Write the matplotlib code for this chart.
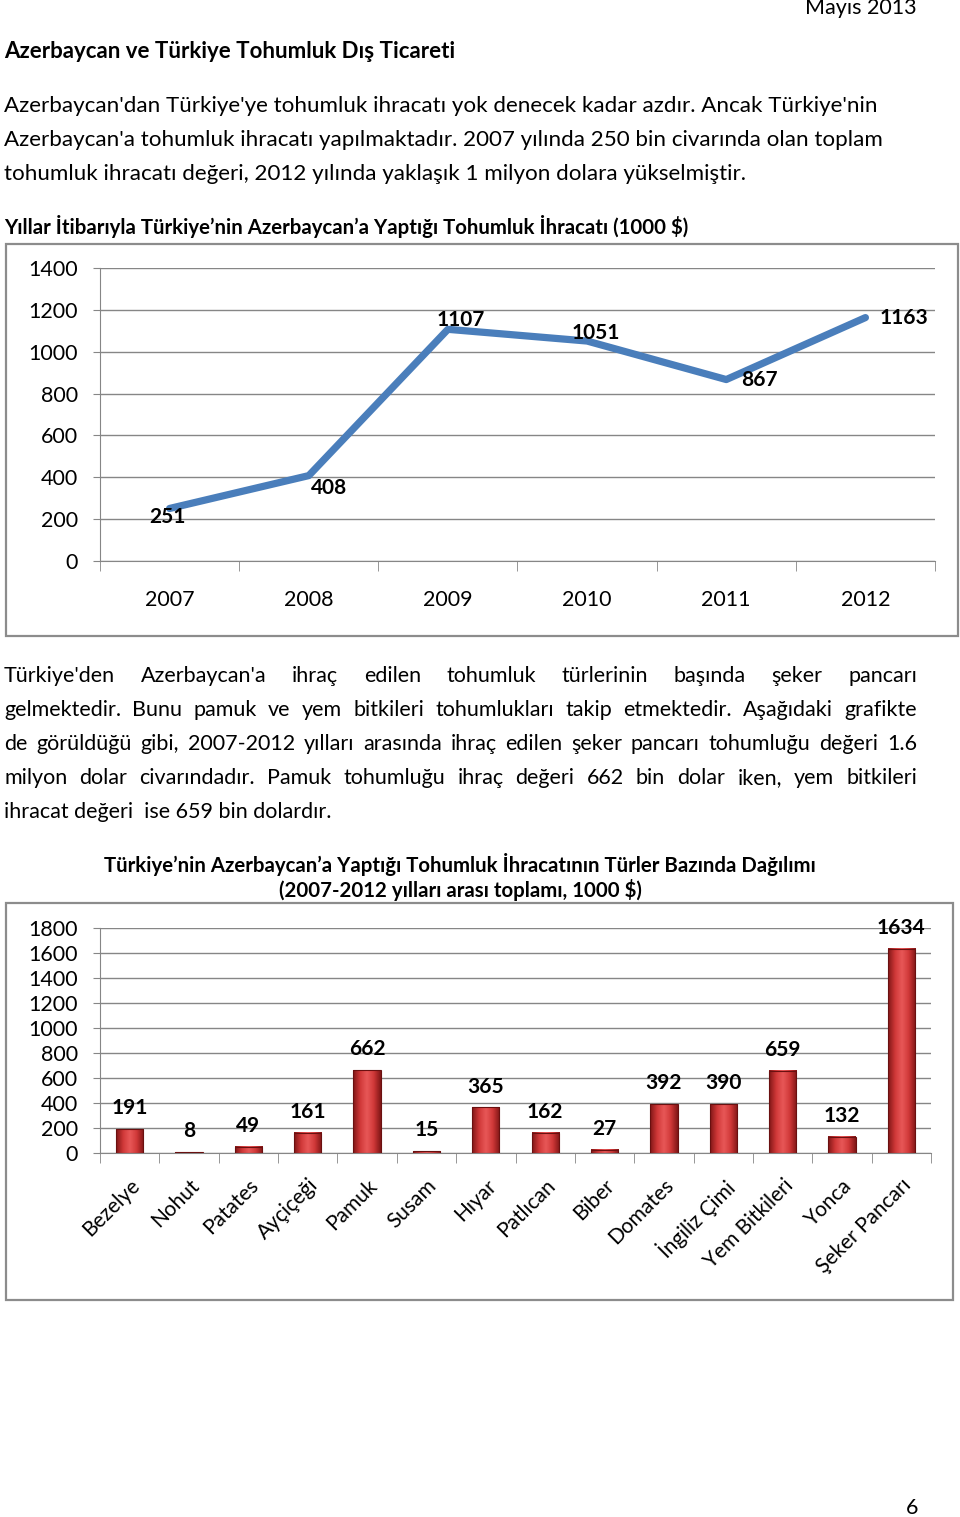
import numpy as np
import matplotlib
matplotlib.use("Agg")
import matplotlib.pyplot as plt
from matplotlib.colors import LinearSegmentedColormap

plt.rcParams['font.family'] = ['Lato', 'DejaVu Sans']

W, H = 960, 1517

# data: chart 1
years = ['2007', '2008', '2009', '2010', '2011', '2012']
export_vals = [251, 408, 1107, 1051, 867, 1163]

# data: chart 2
kinds = ['Bezelye', 'Nohut', 'Patates', 'Ayçiçeği', 'Pamuk', 'Susam', 'Hıyar',
         'Patlıcan', 'Biber', 'Domates', 'İngiliz Çimi', 'Yem Bitkileri',
         'Yonca', 'Şeker Pancarı']
kind_vals = [191, 8, 49, 161, 662, 15, 365, 162, 27, 392, 390, 659, 132, 1634]

para1 = ["Azerbaycan'dan Türkiye'ye tohumluk ihracatı yok denecek kadar azdır. Ancak Türkiye'nin",
         "Azerbaycan'a tohumluk ihracatı yapılmaktadır. 2007 yılında 250 bin civarında olan toplam",
         "tohumluk ihracatı değeri, 2012 yılında yaklaşık 1 milyon dolara yükselmiştir."]
para2 = ["Türkiye'den Azerbaycan'a ihraç edilen tohumluk türlerinin başında şeker pancarı",
         "gelmektedir. Bunu pamuk ve yem bitkileri tohumlukları takip etmektedir. Aşağıdaki grafikte",
         "de görüldüğü gibi, 2007-2012 yılları arasında ihraç edilen şeker pancarı tohumluğu değeri 1.6",
         "milyon dolar civarındadır. Pamuk tohumluğu ihraç değeri 662 bin dolar iken, yem bitkileri",
         "ihracat değeri  ise 659 bin dolardır."]

fig = plt.figure(figsize=(W / 100, H / 100), dpi=100)


def fx(x):
    return x / W


def fy(y):
    return 1 - y / H


def box(x0, y0, x1, y1):
    return [fx(x0), fy(y1), (x1 - x0) / W, (y1 - y0) / H]


TXT = 16.1
fig.text(fx(917), fy(8), "Mayıs 2013", ha='right', va='center', fontsize=15.5)
fig.text(fx(4), fy(52), "Azerbaycan ve Türkiye Tohumluk Dış Ticareti", ha='left', va='center',
         fontsize=16, fontweight='bold')
for i, line in enumerate(para1):
    fig.text(fx(4), fy(106 + 34 * i), line, ha='left', va='center', fontsize=TXT)

fig.text(fx(4), fy(226), "Yıllar İtibarıyla Türkiye’nin Azerbaycan’a Yaptığı Tohumluk İhracatı (1000 $)",
         ha='left', va='center', fontsize=14.7, fontweight='bold')

# justified paragraph
renderer = fig.canvas.get_renderer()
for i, line in enumerate(para2):
    y = fy(676 + 34 * i)
    if i == len(para2) - 1:
        fig.text(fx(4), y, line, ha='left', va='center', fontsize=15.5)
        continue
    words = line.split()
    texts = [fig.text(0, y, w, ha='left', va='center', fontsize=15.5) for w in words]
    widths = [t.get_window_extent(renderer).width for t in texts]
    gap = (917 - 4 - sum(widths)) / (len(words) - 1)
    xpos = 4
    for t, w in zip(texts, widths):
        t.set_x(fx(xpos))
        xpos += w + gap

fig.text(fx(912), fy(1508), "6", ha='center', va='center', fontsize=15.5)

# frames
for (x0, y0, x1, y1) in [(6, 244, 958, 636), (6, 903, 953, 1300)]:
    fig.patches.append(plt.Rectangle((fx(x0), fy(y1)), (x1 - x0) / W, (y1 - y0) / H,
                                     transform=fig.transFigure, fill=False,
                                     edgecolor='#8c8c8c', lw=1.6))

GRID = '#868686'

# chart 1
ax = fig.add_axes(box(100, 268, 935, 561))
xs = np.arange(len(years))
ax.plot(xs, export_vals, color='#4a7ebb', lw=5.2, solid_capstyle='round', zorder=3)
ax.set_xlim(-0.5, len(years) - 0.5)
ax.set_ylim(0, 1400)
ax.set_yticks(range(0, 1401, 200))
ax.yaxis.grid(True, color=GRID, lw=1)
ax.set_axisbelow(True)
ax.set_xticks(xs)
ax.set_xticklabels(years)
ax.set_xticks(np.arange(-0.5, len(years)), minor=True)
ax.tick_params(axis='x', which='major', length=0, pad=21, labelsize=15.5)
ax.tick_params(axis='x', which='minor', length=7, color=GRID, direction='out')
ax.tick_params(axis='y', length=5, color=GRID, pad=11, labelsize=15.5)
for s in ['top', 'right']:
    ax.spines[s].set_visible(False)
for s in ['left', 'bottom']:
    ax.spines[s].set_color(GRID)
label_off = [(-1.5, -6.5), (15, -9), (9, 7), (6.5, 6), (24, 0), (28, 0)]
for xi, v, (dx, dy) in zip(xs, export_vals, label_off):
    ax.annotate(str(v), (xi, v), xytext=(dx, dy), textcoords='offset points',
                ha='center', va='center', fontsize=15, fontweight='bold')

# chart 2
fig.text(fx(460), fy(864), "Türkiye’nin Azerbaycan’a Yaptığı Tohumluk İhracatının Türler Bazında Dağılımı",
         ha='center', va='center', fontsize=14.7, fontweight='bold')
fig.text(fx(460), fy(890), "(2007-2012 yılları arası toplamı, 1000 $)",
         ha='center', va='center', fontsize=14.7, fontweight='bold')

ax2 = fig.add_axes(box(100, 928, 931, 1153))
xk = np.arange(len(kinds))
bars = ax2.bar(xk, kind_vals, width=0.46, color='none', edgecolor='#6a1010', lw=0.8, zorder=3)
cmap = LinearSegmentedColormap.from_list('barred', ['#801616', '#d03838', '#e85858', '#d03838', '#801616'])
grad = np.linspace(0, 1, 64).reshape(1, -1)
for b in bars:
    x0, y0 = b.get_xy()
    ax2.imshow(grad, extent=[x0, x0 + b.get_width(), y0, y0 + b.get_height()],
               aspect='auto', cmap=cmap, zorder=2.5, interpolation='bicubic')
ax2.set_xlim(-0.5, len(kinds) - 0.5)
ax2.set_ylim(0, 1800)
ax2.set_yticks(range(0, 1801, 200))
ax2.yaxis.grid(True, color=GRID, lw=1)
ax2.set_axisbelow(True)
ax2.set_xticks(xk)
ax2.set_xticklabels(kinds, rotation=45, ha='right', rotation_mode='anchor')
ax2.set_xticks(np.arange(-0.5, len(kinds)), minor=True)
ax2.tick_params(axis='x', which='major', length=0, pad=16, labelsize=15)
ax2.tick_params(axis='x', which='minor', length=7, color=GRID, direction='out')
ax2.tick_params(axis='y', length=5, color=GRID, pad=11, labelsize=15.5)
for s in ['top', 'right']:
    ax2.spines[s].set_visible(False)
for s in ['left', 'bottom']:
    ax2.spines[s].set_color(GRID)
for xi, v in zip(xk, kind_vals):
    ax2.annotate(str(v), (xi, v), xytext=(0, 15), textcoords='offset points',
                 ha='center', va='center', fontsize=15, fontweight='bold')

fig.savefig('out.png', dpi=100)
